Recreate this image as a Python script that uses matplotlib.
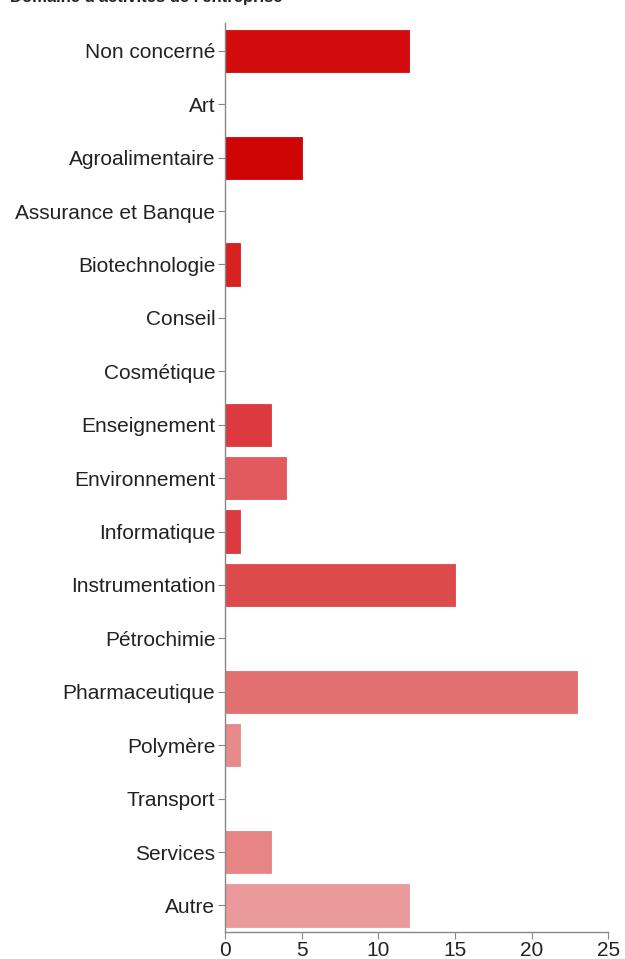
import matplotlib.pyplot as plt

plt.rcParams['font.family'] = ['Liberation Sans', 'DejaVu Sans']

categories = ['Non concerné', 'Art', 'Agroalimentaire', 'Assurance et Banque',
              'Biotechnologie', 'Conseil', 'Cosmétique', 'Enseignement',
              'Environnement', 'Informatique', 'Instrumentation', 'Pétrochimie',
              'Pharmaceutique', 'Polymère', 'Transport', 'Services', 'Autre']
counts = [12, 0, 5, 0, 1, 0, 0, 3, 4, 1, 15, 0, 23, 1, 0, 3, 12]
colors = ['#d20c0c', '#d20c0c', '#cf0404', '#d41515', '#d82222', '#d92a2a',
          '#da3232', '#dc3a3e', '#e05a5e', '#dc3a3e', '#dc4a4c', '#e06060',
          '#e27070', '#e78a8a', '#e78585', '#e78585', '#ea9a9a']

fig = plt.figure(figsize=(6.25, 9.59), dpi=100)
ax = fig.add_axes([0.36, 0.028, 0.613, 0.948])

y = list(range(len(categories)))
ax.barh(y, counts, height=0.79, color=colors, edgecolor=colors, linewidth=0.6)

ax.set_ylim(16.5, -0.52)
ax.set_xlim(0, 25)
ax.set_yticks(y)
ax.set_yticklabels(categories, fontsize=15, color='#222222')
ax.set_xticks([0, 5, 10, 15, 20, 25])
ax.tick_params(axis='x', labelsize=15, length=5, pad=1.5, color='#888888',
               labelcolor='#222222')
ax.tick_params(axis='y', length=5, color='#888888', pad=2)

for s in ['top', 'right']:
    ax.spines[s].set_visible(False)
for s in ['left', 'bottom']:
    ax.spines[s].set_color('#888888')
    ax.spines[s].set_linewidth(1)

# title only partly visible at the top edge, as in the source screenshot
fig.text(0.016, 1.003, "Domaine d'activités de l'entreprise", fontsize=12,
         fontweight='bold', va='center', ha='left', color='#222222')

fig.savefig('out.png', dpi=100)
